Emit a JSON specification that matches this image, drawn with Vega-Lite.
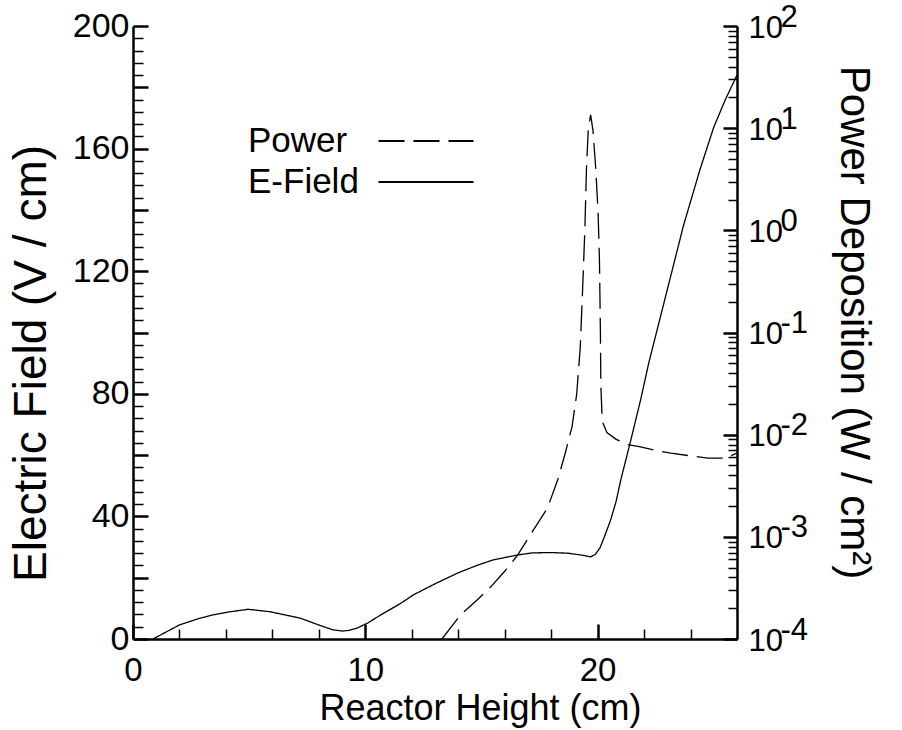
{
  "$schema": "https://vega.github.io/schema/vega-lite/v6.json",
  "width": 604,
  "height": 613,
  "autosize": {"type": "none"},
  "padding": {"left": 133, "top": 26, "right": 165, "bottom": 91},
  "background": "white",
  "config": {
    "view": {"stroke": null},
    "font": "Liberation Sans",
    "axis": {
      "grid": false,
      "domainColor": "black",
      "tickColor": "black",
      "labelColor": "black",
      "titleColor": "black",
      "labelFont": "Liberation Sans",
      "titleFont": "Liberation Sans",
      "titleFontWeight": "normal",
      "labelOverlap": false,
      "labelFlush": false
    }
  },
  "datasets": {
    "curves": [
      {"series": "E-Field", "h": 0.86, "v": 0},
      {"series": "E-Field", "h": 2.0, "v": 4.6},
      {"series": "E-Field", "h": 2.76, "v": 6.5},
      {"series": "E-Field", "h": 3.4, "v": 7.8},
      {"series": "E-Field", "h": 4.1, "v": 8.8},
      {"series": "E-Field", "h": 4.96, "v": 9.7},
      {"series": "E-Field", "h": 5.9, "v": 8.9},
      {"series": "E-Field", "h": 7.2, "v": 6.8},
      {"series": "E-Field", "h": 8.06, "v": 4.4},
      {"series": "E-Field", "h": 8.6, "v": 3.0},
      {"series": "E-Field", "h": 9.0, "v": 2.6},
      {"series": "E-Field", "h": 9.3, "v": 2.8},
      {"series": "E-Field", "h": 9.66, "v": 3.6},
      {"series": "E-Field", "h": 10.1, "v": 5.2},
      {"series": "E-Field", "h": 10.65, "v": 7.8},
      {"series": "E-Field", "h": 11.5, "v": 11.5},
      {"series": "E-Field", "h": 12.07, "v": 14.4},
      {"series": "E-Field", "h": 13.0, "v": 18.0},
      {"series": "E-Field", "h": 13.97, "v": 21.5},
      {"series": "E-Field", "h": 14.8, "v": 24.0},
      {"series": "E-Field", "h": 15.5, "v": 25.8},
      {"series": "E-Field", "h": 16.55, "v": 27.4},
      {"series": "E-Field", "h": 17.2, "v": 28.1},
      {"series": "E-Field", "h": 18.0, "v": 28.2},
      {"series": "E-Field", "h": 18.7, "v": 28.0},
      {"series": "E-Field", "h": 19.3, "v": 27.4},
      {"series": "E-Field", "h": 19.7, "v": 26.8},
      {"series": "E-Field", "h": 19.9, "v": 27.6},
      {"series": "E-Field", "h": 20.1, "v": 29.7},
      {"series": "E-Field", "h": 20.3, "v": 33.5},
      {"series": "E-Field", "h": 20.56, "v": 38.8},
      {"series": "E-Field", "h": 20.8, "v": 45},
      {"series": "E-Field", "h": 21.0, "v": 52},
      {"series": "E-Field", "h": 21.4, "v": 64},
      {"series": "E-Field", "h": 21.85, "v": 78},
      {"series": "E-Field", "h": 22.2, "v": 90},
      {"series": "E-Field", "h": 22.7, "v": 105},
      {"series": "E-Field", "h": 23.2, "v": 120},
      {"series": "E-Field", "h": 23.7, "v": 135},
      {"series": "E-Field", "h": 24.4, "v": 153},
      {"series": "E-Field", "h": 25.0, "v": 167},
      {"series": "E-Field", "h": 25.5, "v": 176},
      {"series": "E-Field", "h": 26.0, "v": 184},
      {"series": "Power", "h": 13.3, "v": 0.0001},
      {"series": "Power", "h": 14.1, "v": 0.000172},
      {"series": "Power", "h": 14.8, "v": 0.00024},
      {"series": "Power", "h": 15.4, "v": 0.000324},
      {"series": "Power", "h": 16.0, "v": 0.00046},
      {"series": "Power", "h": 16.55, "v": 0.00066},
      {"series": "Power", "h": 17.24, "v": 0.00117},
      {"series": "Power", "h": 17.84, "v": 0.00191},
      {"series": "Power", "h": 18.28, "v": 0.0036},
      {"series": "Power", "h": 18.6, "v": 0.0065},
      {"series": "Power", "h": 18.9, "v": 0.012},
      {"series": "Power", "h": 19.1, "v": 0.025},
      {"series": "Power", "h": 19.25, "v": 0.07},
      {"series": "Power", "h": 19.35, "v": 0.25},
      {"series": "Power", "h": 19.45, "v": 1.0},
      {"series": "Power", "h": 19.52, "v": 4},
      {"series": "Power", "h": 19.6, "v": 10},
      {"series": "Power", "h": 19.7, "v": 13.5},
      {"series": "Power", "h": 19.8, "v": 9.5},
      {"series": "Power", "h": 19.92, "v": 4},
      {"series": "Power", "h": 20.02, "v": 1.5},
      {"series": "Power", "h": 20.08, "v": 0.5},
      {"series": "Power", "h": 20.12, "v": 0.1},
      {"series": "Power", "h": 20.14, "v": 0.03},
      {"series": "Power", "h": 20.2, "v": 0.0135},
      {"series": "Power", "h": 20.4, "v": 0.0105},
      {"series": "Power", "h": 20.8, "v": 0.009},
      {"series": "Power", "h": 21.3, "v": 0.008},
      {"series": "Power", "h": 21.85, "v": 0.0076},
      {"series": "Power", "h": 22.5, "v": 0.007},
      {"series": "Power", "h": 23.15, "v": 0.0066},
      {"series": "Power", "h": 24.0, "v": 0.0062},
      {"series": "Power", "h": 24.74, "v": 0.0059},
      {"series": "Power", "h": 25.5, "v": 0.0059},
      {"series": "Power", "h": 26.0, "v": 0.0066}
    ]
  },
  "data": {"name": "curves"},
  "layer": [
    {
      "transform": [{"filter": "datum.series === 'E-Field'"}],
      "mark": {"type": "line", "color": "black", "strokeWidth": 1.3, "clip": true},
      "encoding": {
        "x": {
          "field": "h", "type": "quantitative",
          "scale": {"domain": [0, 26], "nice": false, "zero": false},
          "axis": {
            "orient": "bottom",
            "values": [0, 10, 20],
            "tickSize": -15,
            "tickWidth": 2.5,
            "labelPadding": 30,
            "labelFontSize": 33,
            "domainWidth": 2.5,
            "title": "Reactor Height (cm)",
            "titleFontSize": 36,
            "titleX": 347,
            "titleY": 80,
            "titleAlign": "center",
            "titleBaseline": "alphabetic"
          }
        },
        "y": {
          "field": "v", "type": "quantitative",
          "scale": {"domain": [0, 200], "nice": false},
          "axis": {
            "orient": "left",
            "values": [0, 20, 40, 60, 80, 100, 120, 140, 160, 180, 200],
            "labelExpr": "datum.value % 40 === 0 ? datum.label : ''",
            "tickSize": -15,
            "tickWidth": 2.5,
            "labelPadding": 19,
            "labelFontSize": 34,
            "domainWidth": 2.5,
            "title": "Electric Field (V / cm)",
            "titleFontSize": 46,
            "titleAngle": 270,
            "titleX": -88,
            "titleY": 337,
            "titleAlign": "center",
            "titleBaseline": "alphabetic"
          }
        },
        "strokeDash": {
          "field": "series", "type": "nominal",
          "scale": {"domain": ["Power", "E-Field"], "range": [[26, 9], [1, 0]]},
          "legend": {
            "title": null,
            "orient": "none",
            "legendX": 273,
            "legendY": 95,
            "padding": 0,
            "rowPadding": 3,
            "symbolType": "M-2.5,0H2.5",
            "symbolSize": 1444,
            "symbolStrokeWidth": 2,
            "symbolStrokeColor": "black",
            "labelFontSize": 35,
            "labelFont": "Liberation Sans",
            "labelColor": "black",
            "labelAlign": "left",
            "labelOffset": -198
          }
        }
      }
    },
    {
      "transform": [{"filter": "datum.series === 'Power'"}],
      "mark": {"type": "line", "color": "black", "strokeWidth": 1.3, "clip": true},
      "encoding": {
        "x": {"field": "h", "type": "quantitative", "scale": {"domain": [0, 26], "nice": false, "zero": false}, "axis": null},
        "y": {
          "field": "v", "type": "quantitative",
          "scale": {"type": "log", "domain": [0.0001, 100], "nice": false},
          "axis": {
            "orient": "right",
            "values": [0.0001, 0.001, 0.01, 0.1, 1, 10, 100],
            "labelExpr": "'10'",
            "tickSize": -14,
            "tickWidth": 2.5,
            "labelPadding": 25,
            "labelFontSize": 31,
            "labelBaseline": "middle",
            "labelOffset": 2,
            "domainWidth": 2.5,
            "title": "Power Deposition (W / cm²)",
            "titleFontSize": 42,
            "titleAngle": 90,
            "titleX": 103,
            "titleY": 296,
            "titleAlign": "center",
            "titleBaseline": "alphabetic"
          }
        },
        "strokeDash": {"field": "series", "type": "nominal", "scale": {"domain": ["Power", "E-Field"], "range": [[26, 9], [1, 0]]}}
      }
    },
    {
      "transform": [{"filter": "datum.series === 'Power'"}],
      "mark": {"type": "line", "color": "black", "opacity": 0},
      "encoding": {
        "x": {"field": "h", "type": "quantitative", "scale": {"domain": [0, 26], "nice": false, "zero": false}, "axis": null},
        "y": {
          "field": "v", "type": "quantitative",
          "scale": {"type": "log", "domain": [0.0001, 100], "nice": false},
          "axis": {
            "orient": "right",
            "values": [0.0001, 0.001, 0.01, 0.1, 1, 10, 100],
            "labelExpr": "'' + round(log(datum.value)/LN10)",
            "ticks": false,
            "domain": false,
            "labelPadding": 43,
            "labelFontSize": 31,
            "labelBaseline": "middle",
            "labelOffset": -9,
            "title": null
          }
        }
      }
    },
    {
      "transform": [{"filter": "datum.series === 'E-Field'"}],
      "mark": {"type": "line", "color": "black", "opacity": 0},
      "encoding": {
        "x": {
          "field": "h", "type": "quantitative",
          "scale": {"domain": [0, 26], "nice": false, "zero": false},
          "axis": {
            "orient": "bottom",
            "values": [2, 4, 6, 8, 12, 14, 16, 18, 22, 24],
            "tickSize": -10,
            "tickWidth": 1.5,
            "labels": false,
            "domain": false,
            "title": null
          }
        },
        "y": {
          "field": "v", "type": "quantitative",
          "scale": {"domain": [0, 200], "nice": false},
          "axis": {
            "orient": "left",
            "values": [4, 8, 12, 16, 24, 28, 32, 36, 44, 48, 52, 56, 64, 68, 72, 76, 84, 88, 92, 96, 104, 108, 112, 116, 124, 128, 132, 136, 144, 148, 152, 156, 164, 168, 172, 176, 184, 188, 192, 196],
            "tickSize": -10,
            "tickWidth": 1.5,
            "labels": false,
            "domain": false,
            "title": null
          }
        }
      }
    },
    {
      "transform": [{"filter": "datum.series === 'Power'"}],
      "mark": {"type": "line", "color": "black", "opacity": 0},
      "encoding": {
        "x": {"field": "h", "type": "quantitative", "scale": {"domain": [0, 26], "nice": false, "zero": false}, "axis": null},
        "y": {
          "field": "v", "type": "quantitative",
          "scale": {"type": "log", "domain": [0.0001, 100], "nice": false},
          "axis": {
            "orient": "right",
            "values": [0.0002, 0.0003, 0.0004, 0.0005, 0.0006, 0.0007, 0.0008, 0.0009, 0.002, 0.003, 0.004, 0.005, 0.006, 0.007, 0.008, 0.009, 0.02, 0.03, 0.04, 0.05, 0.06, 0.07, 0.08, 0.09, 0.2, 0.3, 0.4, 0.5, 0.6, 0.7, 0.8, 0.9, 2, 3, 4, 5, 6, 7, 8, 9, 20, 30, 40, 50, 60, 70, 80, 90],
            "tickSize": -9,
            "tickWidth": 1.5,
            "labels": false,
            "domain": false,
            "title": null
          }
        }
      }
    }
  ],
  "resolve": {"scale": {"x": "independent", "y": "independent"}}
}
